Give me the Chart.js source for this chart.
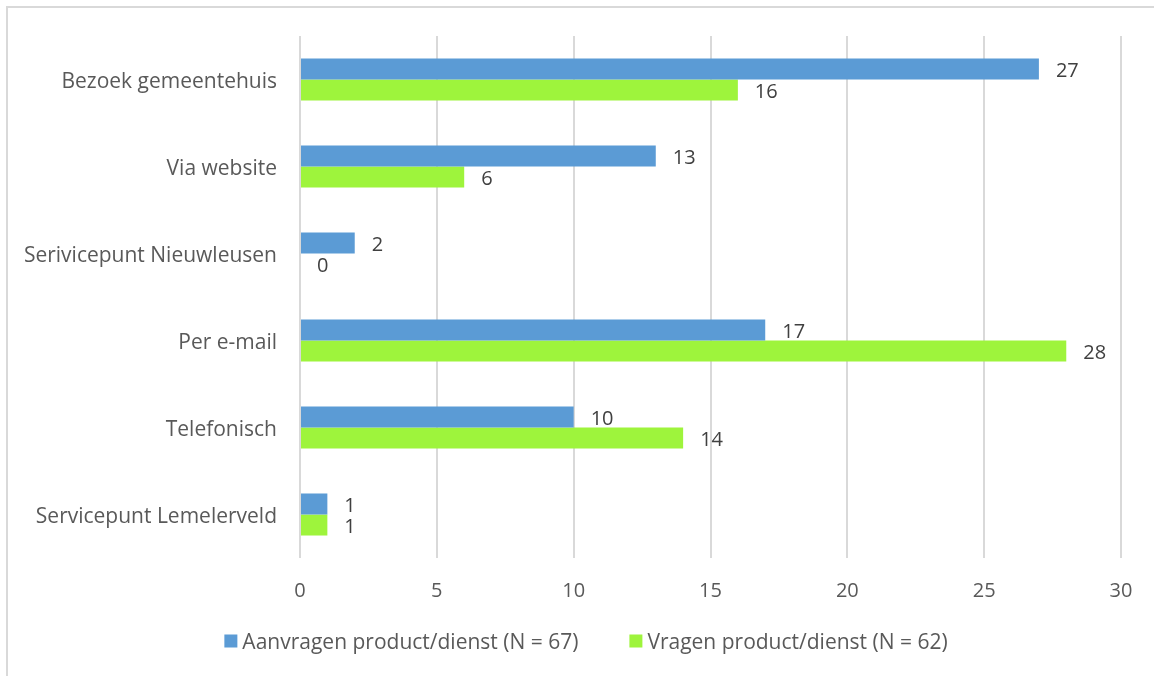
<!DOCTYPE html>
<html>
<head>
<meta charset="utf-8">
<script src="https://cdn.jsdelivr.net/npm/chart.js@4/dist/chart.umd.min.js"></script>
<style>
  html, body { margin: 0; padding: 0; background: #fff; }
  #wrap { position: relative; width: 1154px; height: 676px; overflow: hidden; }
  #frame { position: absolute; left: 6px; top: 6px; width: 1200px; height: 700px;
           border-left: 2px solid #d9d9d9; border-top: 2px solid #d9d9d9; pointer-events: none; }
  canvas { position: absolute; left: 0; top: 0; }
</style>
</head>
<body>
<div id="wrap">
  <div id="frame"></div>
  <canvas id="c" width="1154" height="676"></canvas>
</div>
<script>
const categories = ["Bezoek gemeentehuis", "Via website", "Serivicepunt Nieuwleusen", "Per e-mail", "Telefonisch", "Servicepunt Lemelerveld"];
const seriesNames = ["Aanvragen product/dienst (N = 67)", "Vragen product/dienst (N = 62)"];
const aanvragen = [27, 13, 2, 17, 10, 1];
const vragen = [16, 6, 0, 28, 14, 1];
const xTicks = [0, 5, 10, 15, 20, 25, 30];

const FONT = "'Open Sans', sans-serif";
const FS = 21;
const colors = ["#5b9bd5", "#9ef43c"];

const valueLabels = {
  id: 'valueLabels',
  afterDatasetsDraw(chart) {
    const ctx = chart.ctx;
    ctx.save();
    ctx.font = "20px " + FONT;
    ctx.fillStyle = "#404040";
    ctx.textAlign = "left";
    ctx.textBaseline = "middle";
    chart.data.datasets.forEach((ds, di) => {
      const meta = chart.getDatasetMeta(di);
      meta.data.forEach((bar, i) => {
        ctx.fillText(String(ds.data[i]), bar.x + 17, bar.y + 2);
      });
    });
    ctx.restore();
  }
};

const customLegend = {
  id: 'customLegend',
  afterDraw(chart) {
    const ctx = chart.ctx;
    ctx.save();
    ctx.font = FS + "px " + FONT;
    ctx.textBaseline = "middle";
    ctx.textAlign = "left";
    const box = 13, gapText = 5, gapItems = 51, cy = 641, cx = 586;
    const widths = chart.data.datasets.map(ds => box + gapText + ctx.measureText(ds.label).width);
    const total = widths.reduce((a, b) => a + b, 0) + gapItems * (widths.length - 1);
    let x = cx - total / 2;
    chart.data.datasets.forEach((ds, i) => {
      ctx.fillStyle = ds.backgroundColor;
      ctx.fillRect(x, cy - box / 2, box, box);
      ctx.fillStyle = "#595959";
      ctx.fillText(ds.label, x + box + gapText, cy + 2);
      x += widths[i] + gapItems;
    });
    ctx.restore();
  }
};

new Chart(document.getElementById('c'), {
  type: 'bar',
  data: {
    labels: categories,
    datasets: [
      { label: seriesNames[0], data: aanvragen, backgroundColor: colors[0] },
      { label: seriesNames[1], data: vragen, backgroundColor: colors[1] }
    ]
  },
  options: {
    indexAxis: 'y',
    responsive: false,
    animation: false,
    devicePixelRatio: 1,
    categoryPercentage: 0.483,
    barPercentage: 1,
    layout: { padding: { top: 36, right: 33, bottom: 54, left: 0 } },
    plugins: { legend: { display: false }, tooltip: { enabled: false } },
    scales: {
      x: {
        min: 0, max: 30,
        afterBuildTicks: (s) => { s.ticks = xTicks.map(v => ({ value: v })); },
        afterFit: (s) => { s.height = 64; },
        grid: { color: "#d9d9d9", lineWidth: 2, drawTicks: false },
        border: { display: false },
        ticks: { padding: 21, color: "#595959", font: { family: FONT, size: 20 } }
      },
      y: {
        afterFit: (s) => { s.width = 300; },
        grid: { display: false, drawTicks: false },
        border: { display: false },
        ticks: { padding: 23, labelOffset: 3, color: "#595959", font: { family: FONT, size: FS } }
      }
    }
  },
  plugins: [valueLabels, customLegend]
});
</script>
</body>
</html>
